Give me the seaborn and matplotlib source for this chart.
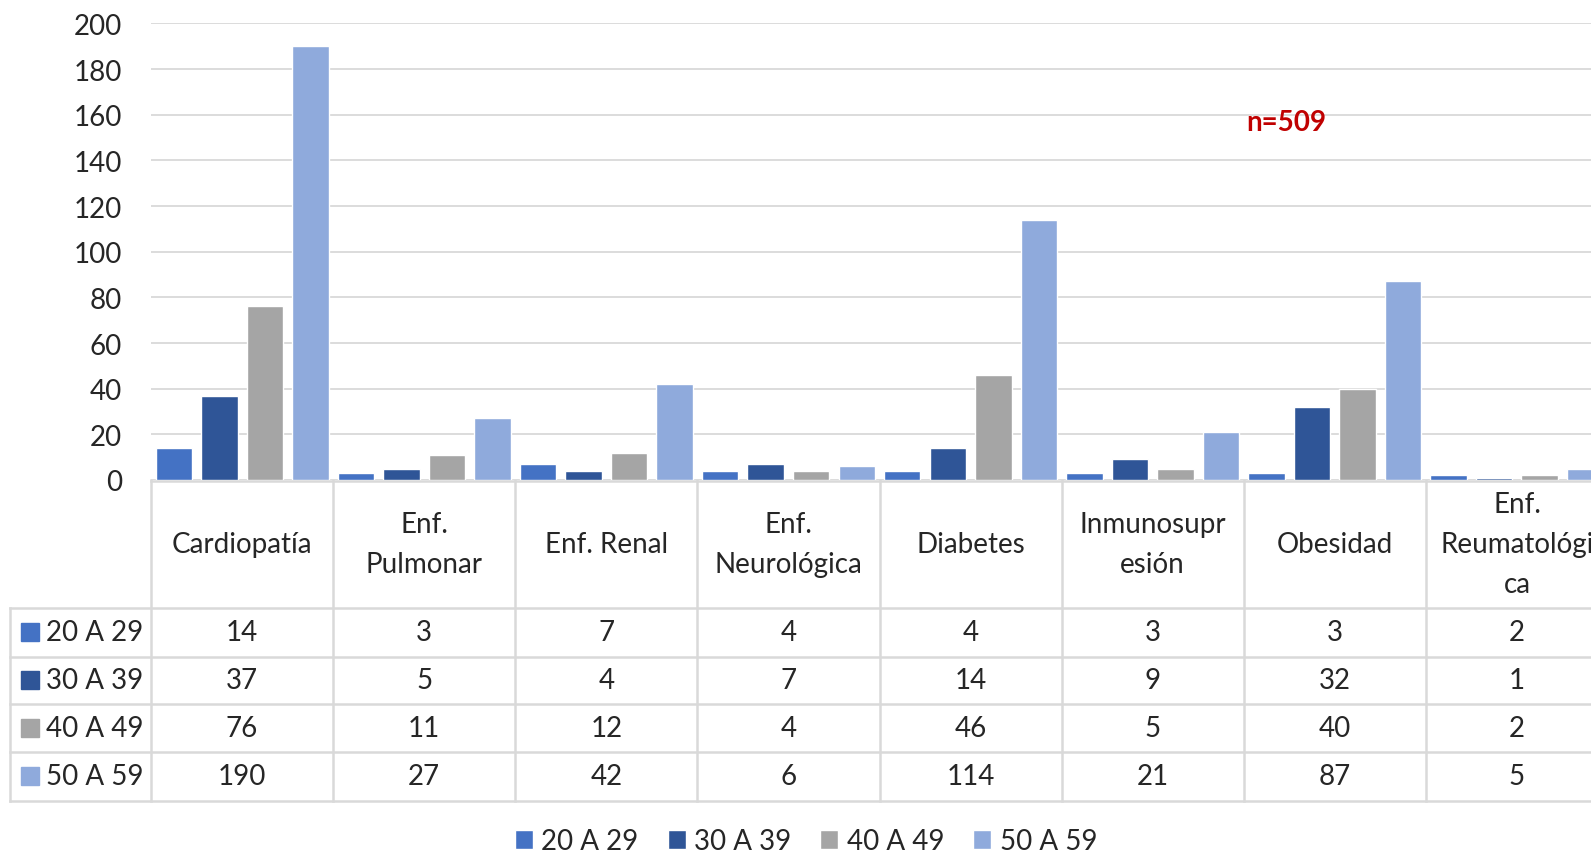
import numpy as np
import pandas as pd
import seaborn as sns
import matplotlib.pyplot as plt

CATEGORIES = [
    "Cardiopatía",
    "Enf.\nPulmonar",
    "Enf. Renal",
    "Enf.\nNeurológica",
    "Diabetes",
    "Inmunosupr\nesión",
    "Obesidad",
    "Enf.\nReumatológi\nca",
]
GROUPS = ["20 A 29", "30 A 39", "40 A 49", "50 A 59"]
VALUES_20_29 = [14, 3, 7, 4, 4, 3, 3, 2]
VALUES_30_39 = [37, 5, 4, 7, 14, 9, 32, 1]
VALUES_40_49 = [76, 11, 12, 4, 46, 5, 40, 2]
VALUES_50_59 = [190, 27, 42, 6, 114, 21, 87, 5]
COLORS = ["#4472C4", "#2F5597", "#A5A5A5", "#8FAADC"]
Y_TICKS = list(range(0, 201, 20))
N_LABEL = "n=509"

W, H = 1591, 853
FONT = 20
LINE_COLOR = "#D9D9D9"

sns.set_style("white")
plt.rcParams["font.family"] = ["Lato", "DejaVu Sans"]

series = [VALUES_20_29, VALUES_30_39, VALUES_40_49, VALUES_50_59]
df = pd.DataFrame(
    [(c, g, v) for g, vals in zip(GROUPS, series) for c, v in zip(CATEGORIES, vals)],
    columns=["Categoria", "Grupo", "Valor"],
)


def fx(px):
    return px / W


def fy(py):
    return 1 - py / H


fig = plt.figure(figsize=(W / 100, H / 100), dpi=100)

# bar chart area, running past the right edge like the source image
x_left, x_right = 151, 1608
y_top, y_zero, y_table_end = 24.4, 481, 801.6
ax = fig.add_axes([fx(x_left), fy(y_zero), (x_right - x_left) / W, (y_zero - y_top) / H])

sns.barplot(
    data=df, x="Categoria", y="Valor", hue="Grupo", palette=COLORS,
    width=1.0, gap=0.2, saturation=1, errorbar=None, ax=ax,
)
handles, labels = ax.get_legend_handles_labels()
ax.get_legend().remove()

ax.set_xlim(-0.5, len(CATEGORIES) - 0.5)
ax.set_ylim(0, 200)
ax.set_yticks(Y_TICKS)
ax.set_xticks([])
ax.set_xlabel("")
ax.set_ylabel("")
ax.tick_params(axis="y", length=0, labelsize=FONT, pad=21)
ax.grid(axis="y", color=LINE_COLOR, lw=1.3)
ax.set_axisbelow(True)
for s in ax.spines.values():
    s.set_visible(False)

# data table under the bars
tax = fig.add_axes([fx(x_left), fy(y_table_end), (x_right - x_left) / W, (y_table_end - y_zero) / H])
tax.set_zorder(-1)
row_edges = [0, 128, 176.5, 224, 272, 320.6]
tax.set_xlim(-0.5, len(CATEGORIES) - 0.5)
tax.set_ylim(row_edges[-1], 0)
tax.axis("off")

cat_w = (x_right - x_left) / len(CATEGORIES)
label_left = -0.5 + (10 - x_left) / cat_w
key_x = -0.5 + (29.5 - x_left) / cat_w
text_x = -0.5 + (46 - x_left) / cat_w

lk = dict(color=LINE_COLOR, lw=1.8, clip_on=False, solid_capstyle="projecting")
tax.plot([-0.5, len(CATEGORIES) - 0.5], [0.8, 0.8], **lk)
for y in row_edges[1:]:
    tax.plot([label_left, len(CATEGORIES) - 0.5], [y, y], **lk)
tax.plot([label_left, label_left], [row_edges[1], row_edges[-1]], **lk)
for k in range(len(CATEGORIES) + 1):
    tax.plot([k - 0.5, k - 0.5], [0, row_edges[-1]], **lk)

for i, cat in enumerate(CATEGORIES):
    tax.text(i, row_edges[1] / 2, cat, ha="center", va="center",
             fontsize=FONT, linespacing=1.65, clip_on=False)

for r, (g, vals, col) in enumerate(zip(GROUPS, series, COLORS)):
    yc = (row_edges[r + 1] + row_edges[r + 2]) / 2
    tax.plot([key_x], [yc], marker="s", ms=13, color=col, clip_on=False)
    tax.text(text_x, yc, g, ha="left", va="center", fontsize=FONT, clip_on=False)
    for i, v in enumerate(vals):
        tax.text(i, yc, str(v), ha="center", va="center", fontsize=FONT, clip_on=False)

fig.text(fx(1268 * W / 1568), fy(123), N_LABEL, color="#C00000",
         fontsize=FONT, fontweight="bold", ha="center", va="center")

fig.legend(
    handles, labels, loc="center", bbox_to_anchor=(fx(806), fy(842)),
    ncol=4, frameon=False, fontsize=FONT, handlelength=0.65, handleheight=0.65,
    handletextpad=0.3, columnspacing=1.05,
)

fig.savefig("out.png", dpi=100)
